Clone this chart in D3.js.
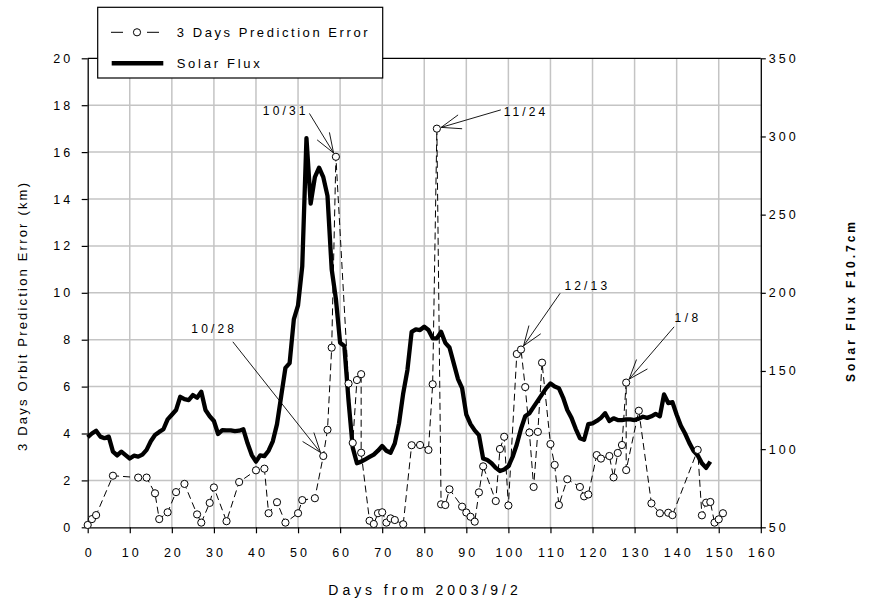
<!DOCTYPE html>
<html>
<head>
<meta charset="utf-8">
<script src="https://cdn.jsdelivr.net/npm/d3@7"></script>
<style>
body { margin: 0; background: #fff; }
text { font-family: "Liberation Sans", Arial, sans-serif; fill: #000; }
</style>
</head>
<body>
<div id="chart"></div>
<script>
// 3 days prediction error (km), day index from 2003/9/2
var errDays = [0, 1, 2, 6, 12, 14, 16, 17, 19, 21, 23, 26, 27, 29, 30, 33, 36, 40, 42, 43,
    45, 47, 50, 51, 54, 56, 57, 58, 59, 62, 63, 64, 65, 65, 67, 68, 69, 70, 71, 72,
    73, 75, 77, 79, 81, 82, 83, 84, 85, 86, 89, 90, 91, 92, 93, 94, 97, 98, 99, 100,
    102, 103, 104, 105, 106, 107, 108, 110, 111, 112, 114, 117, 118, 119, 121, 122, 124, 125, 126, 127,
    128, 128, 131, 134, 136, 138, 139, 145, 146, 147, 148, 149, 150, 151];
var errValues = [0.1, 0.35, 0.52, 2.2, 2.12, 2.12, 1.45, 0.35, 0.64, 1.5, 1.85, 0.55, 0.2, 1.04, 1.7, 0.26, 1.93, 2.43, 2.5, 0.6,
    1.07, 0.2, 0.6, 1.16, 1.24, 3.04, 4.16, 7.66, 15.8, 6.13, 3.6, 6.28, 6.53, 3.18, 0.28, 0.14, 0.6, 0.64, 0.2, 0.38,
    0.31, 0.13, 3.5, 3.51, 3.3, 6.1, 17.0, 0.98, 0.95, 1.62, 0.88, 0.63, 0.45, 0.24, 1.49, 2.6, 1.12, 3.34, 3.86, 0.93,
    7.39, 7.58, 5.98, 4.04, 1.72, 4.07, 7.02, 3.55, 2.66, 0.95, 2.05, 1.72, 1.32, 1.4, 3.08, 2.93, 3.04, 2.13, 3.17, 3.51,
    6.17, 2.44, 4.97, 1.02, 0.6, 0.62, 0.52, 3.3, 0.51, 1.05, 1.08, 0.2, 0.34, 0.6];

// daily solar flux F10.7, starting at day 0
var fluxStartDay = 0;
var fluxValues = [107.6, 110, 111.8, 108, 107, 108, 98.4, 96, 98.4, 96.2,
    94, 95.8, 95.2, 96.5, 99.5, 105, 109, 111, 112.7, 119,
    122, 125, 133.5, 132, 131.4, 134.6, 132.9, 136.7, 125, 121,
    118, 109.7, 112.2, 112, 112, 111.5, 111.8, 112.7, 103.7, 96.2,
    92, 96, 95.5, 99, 105, 116, 134, 152, 155, 183,
    192, 217, 299, 257, 274, 280, 274, 262, 215, 196,
    168, 166, 131, 101, 91, 92, 93.5, 95, 96.5, 99,
    102, 99, 97.7, 103.7, 116.5, 135.7, 150.6, 175, 176.6, 176.2,
    178.3, 176.2, 170.9, 170.9, 175, 168, 165, 155, 145, 139,
    122, 116, 112, 109, 94, 93, 91, 88, 86, 87,
    89, 95, 103, 113, 121, 123, 127, 131, 135, 139,
    142, 140, 139, 133, 125, 120, 113, 107, 106, 116,
    116.5, 118, 120, 123, 118, 119.7, 118.6, 118.6, 119, 119,
    118.6, 119.5, 120.7, 120, 121, 122.5, 121, 135, 129.5, 130,
    122, 115, 110, 104, 99, 96, 91, 88, 92];

var xTicks = [0, 10, 20, 30, 40, 50, 60, 70, 80, 90, 100, 110, 120, 130, 140, 150, 160];
var leftTicks = [0, 2, 4, 6, 8, 10, 12, 14, 16, 18, 20];
var rightTicks = [50, 100, 150, 200, 250, 300, 350];

// annotations: label, label position (day, km), arrow start (day, km), target point (day, km)
var annLabels = ["10/31", "10/28", "11/24", "12/13", "1/8"];
var annTextDay = [46.7, 29.7, 103.8, 118.4, 142.3];
var annTextKm = [17.77, 8.44, 17.72, 10.29, 8.94];
var annFromDay = [52.7, 34.5, 98.2, 112.3, 139.4];
var annFromKm = [17.65, 7.91, 17.8, 9.98, 8.55];
var annToDay = [59, 56, 83, 103, 128];
var annToKm = [15.8, 3.04, 17.0, 7.58, 6.17];

// the original chart's lettering is widely spaced
function spread(sel, k) {
    sel.each(function() {
        var len = this.getComputedTextLength();
        d3.select(this)
            .attr("textLength", len * k)
            .attr("lengthAdjust", "spacing");
    });
}

// fixed gap between characters (no trailing space, so anchors stay exact)
function gap(sel, px) {
    sel.each(function() {
        var len = this.getComputedTextLength();
        var n = this.textContent.length;
        if (n < 2) return;
        d3.select(this)
            .attr("textLength", len + px * (n - 1))
            .attr("lengthAdjust", "spacing");
    });
}

function init() {
    var w = 871, h = 606;
    var pLeft = 87.7, pRight = 760.8, pTop = 58.3, pBottom = 527.3;

    var svg = d3.select("#chart").append("svg")
        .attr("width", w)
        .attr("height", h);

    var x = d3.scaleLinear().domain([0, 160]).range([pLeft, pRight]);
    var yL = d3.scaleLinear().domain([0, 20]).range([pBottom, pTop]);
    var yR = d3.scaleLinear().domain([50, 350]).range([pBottom, pTop]);

    // grid
    svg.append("g").selectAll("line")
        .data(leftTicks.slice(1, -1))
        .enter().append("line")
        .attr("x1", pLeft).attr("x2", pRight)
        .attr("y1", function(d) { return yL(d); })
        .attr("y2", function(d) { return yL(d); })
        .attr("stroke", "#c4c4c4").attr("stroke-width", 1.5);

    svg.append("g").selectAll("line")
        .data(xTicks.slice(1, -1))
        .enter().append("line")
        .attr("y1", pTop).attr("y2", pBottom)
        .attr("x1", function(d) { return x(d); })
        .attr("x2", function(d) { return x(d); })
        .attr("stroke", "#c4c4c4").attr("stroke-width", 1.5);

    // top frame line
    svg.append("line")
        .attr("x1", pLeft).attr("x2", pRight)
        .attr("y1", pTop).attr("y2", pTop)
        .attr("stroke", "#000").attr("stroke-width", 1.2);

    // axes
    function styleAxis(g) {
        g.select(".domain").attr("stroke", "#000").attr("stroke-width", 1.3);
        g.selectAll(".tick line").attr("stroke", "#000").attr("stroke-width", 1.2);
        g.selectAll(".tick text")
            .style("font-family", "'Liberation Sans', Arial, sans-serif")
            .style("font-size", "12.5px")
            .attr("fill", "#000");
        gap(g.selectAll(".tick text"), 3);
    }

    svg.append("g")
        .attr("transform", "translate(0," + pBottom + ")")
        .call(d3.axisBottom(x).tickValues(xTicks).tickSize(6).tickSizeOuter(0).tickPadding(15))
        .call(styleAxis);

    svg.append("g")
        .attr("transform", "translate(" + pLeft + ",0)")
        .call(d3.axisLeft(yL).tickValues(leftTicks).tickSize(6).tickSizeOuter(0).tickPadding(11.5))
        .call(styleAxis);

    svg.append("g")
        .attr("transform", "translate(" + pRight + ",0)")
        .call(d3.axisRight(yR).tickValues(rightTicks).tickSize(5).tickSizeOuter(0).tickPadding(3))
        .call(styleAxis);

    // solar flux line
    var fluxLine = d3.line()
        .x(function(d, i) { return x(fluxStartDay + i); })
        .y(function(d) { return yR(d); });

    svg.append("path")
        .datum(fluxValues)
        .attr("d", fluxLine)
        .attr("fill", "none")
        .attr("stroke", "#000")
        .attr("stroke-width", 4.3)
        .attr("stroke-linejoin", "round");

    // prediction error dashed line + circles
    var errLine = d3.line()
        .x(function(d, i) { return x(errDays[i]); })
        .y(function(d) { return yL(d); });

    svg.append("path")
        .datum(errValues)
        .attr("d", errLine)
        .attr("fill", "none")
        .attr("stroke", "#000")
        .attr("stroke-width", 1)
        .attr("stroke-dasharray", "7,4");

    svg.append("g").selectAll("circle")
        .data(errValues)
        .enter().append("circle")
        .attr("cx", function(d, i) { return x(errDays[i]); })
        .attr("cy", function(d) { return yL(d); })
        .attr("r", 3.6)
        .attr("fill", "#fff")
        .attr("stroke", "#000")
        .attr("stroke-width", 1);

    // annotations
    var ann = svg.append("g");
    annLabels.forEach(function(label, i) {
        var x0 = x(annFromDay[i]), y0 = yL(annFromKm[i]);
        var px = x(annToDay[i]), py = yL(annToKm[i]);
        var ang = Math.atan2(py - y0, px - x0);
        var tx = px - 4.5 * Math.cos(ang), ty = py - 4.5 * Math.sin(ang);
        ann.append("line")
            .attr("x1", x0).attr("y1", y0).attr("x2", tx).attr("y2", ty)
            .attr("stroke", "#000").attr("stroke-width", 0.9);
        [-0.35, 0.35].forEach(function(da) {
            ann.append("line")
                .attr("x1", tx).attr("y1", ty)
                .attr("x2", tx - 21 * Math.cos(ang + da))
                .attr("y2", ty - 21 * Math.sin(ang + da))
                .attr("stroke", "#000").attr("stroke-width", 0.9);
        });
        ann.append("text")
            .attr("x", x(annTextDay[i]))
            .attr("y", yL(annTextKm[i]))
            .attr("text-anchor", "middle")
            .attr("dominant-baseline", "central")
            .style("font-size", "12px")
            .text(label)
            .call(spread, 1.42);
    });

    // legend
    var lg = svg.append("g");
    lg.append("rect")
        .attr("x", 97.7).attr("y", 7.3)
        .attr("width", 285).attr("height", 70.7)
        .attr("fill", "#fff").attr("stroke", "#000").attr("stroke-width", 1.2);
    lg.append("line").attr("x1", 111).attr("x2", 123).attr("y1", 32.3).attr("y2", 32.3)
        .attr("stroke", "#000").attr("stroke-width", 1);
    lg.append("line").attr("x1", 147).attr("x2", 159).attr("y1", 32.3).attr("y2", 32.3)
        .attr("stroke", "#000").attr("stroke-width", 1);
    lg.append("circle").attr("cx", 137).attr("cy", 32.3).attr("r", 3.6)
        .attr("fill", "#fff").attr("stroke", "#000").attr("stroke-width", 1);
    lg.append("line").attr("x1", 111.7).attr("x2", 163.3).attr("y1", 63.3).attr("y2", 63.3)
        .attr("stroke", "#000").attr("stroke-width", 4.5);
    lg.append("text").attr("x", 176.7).attr("y", 32.3)
        .attr("dominant-baseline", "central")
        .style("font-size", "13px")
        .text("3 Days Prediction Error")
        .call(spread, 1.42);
    lg.append("text").attr("x", 176.7).attr("y", 63.3)
        .attr("dominant-baseline", "central")
        .style("font-size", "13px")
        .text("Solar Flux")
        .call(spread, 1.42);

    // axis titles
    svg.append("text")
        .attr("transform", "translate(22,317) rotate(-90)")
        .attr("text-anchor", "middle")
        .attr("dominant-baseline", "central")
        .style("font-size", "13px")
        .attr("textLength", 268)
        .attr("lengthAdjust", "spacing")
        .text("3 Days Orbit Prediction Error (km)");

    svg.append("text")
        .attr("transform", "translate(851,302) rotate(-90)")
        .attr("text-anchor", "middle")
        .attr("dominant-baseline", "central")
        .style("font-size", "12px").style("font-weight", "bold")
        .attr("textLength", 160)
        .attr("lengthAdjust", "spacing")
        .text("Solar Flux F10.7cm");

    svg.append("text")
        .attr("x", 423)
        .attr("y", 590)
        .attr("text-anchor", "middle")
        .attr("dominant-baseline", "central")
        .style("font-size", "14px")
        .text("Days from 2003/9/2")
        .call(spread, 1.55);
}

window.onload = init;
</script>
</body>
</html>
